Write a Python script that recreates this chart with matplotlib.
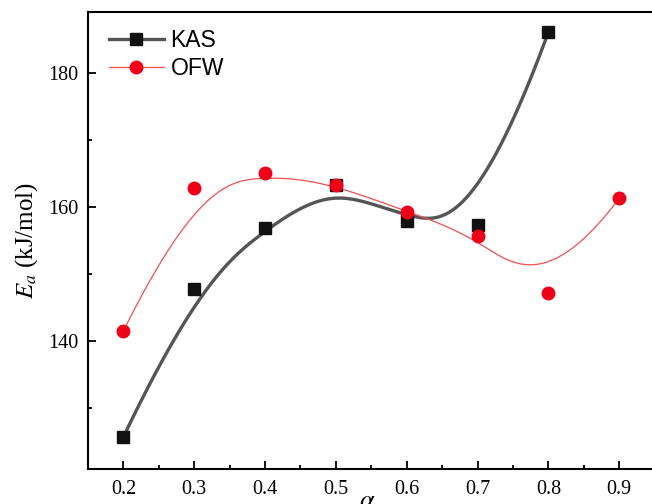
import numpy as np
import matplotlib
matplotlib.use("Agg")
import matplotlib.pyplot as plt
from matplotlib.ticker import MultipleLocator

# data
alpha_kas = [0.2, 0.3, 0.4, 0.5, 0.6, 0.7, 0.8]
ea_kas = [125.7, 147.8, 156.9, 163.3, 157.9, 157.3, 186.1]
alpha_ofw = [0.2, 0.3, 0.4, 0.5, 0.6, 0.7, 0.8, 0.9]
ea_ofw = [141.5, 162.9, 165.1, 163.3, 159.3, 155.7, 147.2, 161.3]


def bspline(xs, ys, k=3, num=300):
    # clamped uniform B-spline with the data points as control points (Origin style)
    pts = np.column_stack([xs, ys])
    n = len(pts)
    inner = np.arange(1, n - k)
    knots = np.concatenate([np.zeros(k + 1), inner, np.full(k + 1, n - k)]).astype(float)
    t = np.linspace(0, n - k, num)
    t[-1] -= 1e-9
    # Cox-de Boor
    B = np.zeros((num, len(knots) - 1))
    for i in range(len(knots) - 1):
        B[:, i] = (t >= knots[i]) & (t < knots[i + 1])
    for d in range(1, k + 1):
        Bn = np.zeros((num, len(knots) - 1 - d))
        for i in range(len(knots) - 1 - d):
            a = knots[i + d] - knots[i]
            b = knots[i + d + 1] - knots[i + 1]
            term = 0
            if a > 0:
                term = term + (t - knots[i]) / a * B[:, i]
            if b > 0:
                term = term + (knots[i + d + 1] - t) / b * B[:, i + 1]
            Bn[:, i] = term
        B = Bn
    curve = B @ pts
    return curve[:, 0], curve[:, 1]


plt.rcParams['mathtext.fontset'] = 'stix'
fig = plt.figure(figsize=(6.52, 5.04), dpi=100)
ax = fig.add_axes([0.135, 0.0694, 0.869, 0.9066])

kx, ky = bspline(alpha_kas, ea_kas)
ox, oy = bspline(alpha_ofw, ea_ofw)

ax.plot(kx, ky, color='#555555', lw=2.4, zorder=2)
ax.plot(ox, oy, color='#f05050', lw=0.9, zorder=2)
ax.plot(alpha_kas, ea_kas, 's', color='#111111', ms=8, zorder=3)
ax.plot(alpha_ofw, ea_ofw, 'o', color='#f00018', ms=9, zorder=3)

# legend handles
h1, = ax.plot([], [], '-s', color='#555555', mfc='#111111', mec='#111111', lw=2.4, ms=8)
h2, = ax.plot([], [], '-o', color='#f05050', mfc='#f00018', mec='#f00018', lw=0.9, ms=9)
ax.legend([h1, h2], ['KAS', 'OFW'], loc='upper left', bbox_to_anchor=(0.0, 1.009),
          frameon=False, handlelength=2.4, handletextpad=0.3, labelspacing=0.25,
          prop={'family': 'Liberation Sans', 'size': 16.5})

ax.set_xlim(0.15, 0.95)
ax.set_ylim(120.9, 189.1)
ax.xaxis.set_major_locator(MultipleLocator(0.1))
ax.xaxis.set_minor_locator(MultipleLocator(0.05))
ax.yaxis.set_major_locator(MultipleLocator(20))
ax.yaxis.set_minor_locator(MultipleLocator(10))
ax.tick_params(which='both', direction='in', width=1.3, labelsize=14.5)
ax.tick_params(which='major', length=6)
ax.tick_params(which='minor', length=3)
ax.tick_params(axis='y', pad=7)
ax.tick_params(axis='x', pad=8)
for lab in ax.get_xticklabels() + ax.get_yticklabels():
    lab.set_fontfamily('Liberation Serif')
for s in ax.spines.values():
    s.set_linewidth(1.5)

ax.set_ylabel(r'$E_a$ (kJ/mol)', family='Liberation Serif', fontsize=18, labelpad=6)
ax.set_xlabel(r'$\alpha$', fontsize=19)
ax.xaxis.set_label_coords(0.493, -0.042)
ax.xaxis.label.set_va('top')

fig.savefig('out.png', dpi=100)
